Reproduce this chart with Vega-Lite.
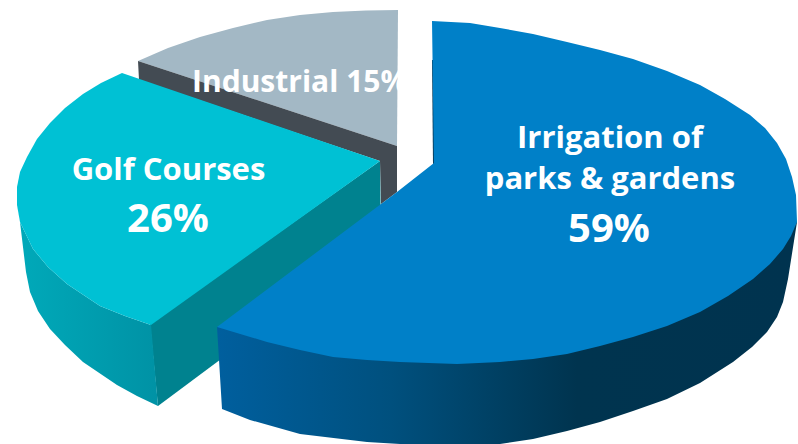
{"$schema":"https://vega.github.io/schema/vega-lite/v6.json","width":798,"height":444,"padding":0,"autosize":"none","background":"white","view":{"stroke":null},
"datasets":{"shapes":[
{"p":"grey","x":138,"y":61},{"p":"grey","x":168,"y":48},{"p":"grey","x":200,"y":37},{"p":"grey","x":233,"y":28},{"p":"grey","x":267,"y":20},{"p":"grey","x":300,"y":15},{"p":"grey","x":333,"y":12},{"p":"grey","x":366,"y":10.5},{"p":"grey","x":398,"y":10},{"p":"grey","x":397,"y":146},
{"p":"dark","x":138,"y":61},{"p":"dark","x":397,"y":146},{"p":"dark","x":397,"y":192},{"p":"dark","x":381,"y":204},{"p":"dark","x":380,"y":161},{"p":"dark","x":139,"y":80},
{"p":"inner","x":150,"y":324},{"p":"inner","x":380,"y":161},{"p":"inner","x":381,"y":240},{"p":"inner","x":158,"y":406},
{"p":"outer","x":20,"y":222},{"p":"outer","x":33,"y":249},{"p":"outer","x":48,"y":267},{"p":"outer","x":67,"y":284},{"p":"outer","x":100,"y":306},{"p":"outer","x":125,"y":316},{"p":"outer","x":151,"y":325},{"p":"outer","x":158,"y":406},{"p":"outer","x":137,"y":396},{"p":"outer","x":117,"y":385},{"p":"outer","x":83,"y":362},{"p":"outer","x":65,"y":345},{"p":"outer","x":50,"y":329},{"p":"outer","x":38,"y":311},{"p":"outer","x":30,"y":292},{"p":"outer","x":26,"y":272},
{"p":"cyan","x":122,"y":73},{"p":"cyan","x":101,"y":83},{"p":"cyan","x":83,"y":94},{"p":"cyan","x":65,"y":108},{"p":"cyan","x":50,"y":123},{"p":"cyan","x":37,"y":139},{"p":"cyan","x":27,"y":157},{"p":"cyan","x":20,"y":172},{"p":"cyan","x":17,"y":187},{"p":"cyan","x":17,"y":205},{"p":"cyan","x":20,"y":222},{"p":"cyan","x":33,"y":249},{"p":"cyan","x":48,"y":267},{"p":"cyan","x":67,"y":284},{"p":"cyan","x":100,"y":306},{"p":"cyan","x":125,"y":316},{"p":"cyan","x":151,"y":325},{"p":"cyan","x":380,"y":161},
{"p":"blueside","x":217,"y":327},{"p":"blueside","x":222,"y":409},{"p":"blueside","x":250,"y":420},{"p":"blueside","x":300,"y":434},{"p":"blueside","x":367,"y":442},{"p":"blueside","x":400,"y":444},{"p":"blueside","x":500,"y":444},{"p":"blueside","x":533,"y":439},{"p":"blueside","x":567,"y":431},{"p":"blueside","x":600,"y":422},{"p":"blueside","x":633,"y":411},{"p":"blueside","x":667,"y":399},{"p":"blueside","x":700,"y":383},{"p":"blueside","x":733,"y":362},{"p":"blueside","x":752,"y":347},{"p":"blueside","x":767,"y":332},{"p":"blueside","x":777,"y":317},{"p":"blueside","x":783,"y":302},{"p":"blueside","x":788,"y":279},{"p":"blueside","x":797,"y":222},{"p":"blueside","x":500,"y":300},
{"p":"sliver","x":432,"y":60},{"p":"sliver","x":433.5,"y":60},{"p":"sliver","x":434.5,"y":163},{"p":"sliver","x":433,"y":165},
{"p":"blue","x":432,"y":21},{"p":"blue","x":470,"y":23},{"p":"blue","x":500,"y":28},{"p":"blue","x":533,"y":34},{"p":"blue","x":567,"y":42},{"p":"blue","x":600,"y":50},{"p":"blue","x":633,"y":59},{"p":"blue","x":667,"y":71},{"p":"blue","x":700,"y":85},{"p":"blue","x":725,"y":99},{"p":"blue","x":750,"y":115},{"p":"blue","x":765,"y":128},{"p":"blue","x":777,"y":143},{"p":"blue","x":786,"y":159},{"p":"blue","x":792,"y":177},{"p":"blue","x":796,"y":195},{"p":"blue","x":797,"y":222},{"p":"blue","x":791,"y":236},{"p":"blue","x":783,"y":249},{"p":"blue","x":770,"y":264},{"p":"blue","x":753,"y":279},{"p":"blue","x":728,"y":296},{"p":"blue","x":700,"y":312},{"p":"blue","x":667,"y":326},{"p":"blue","x":633,"y":337},{"p":"blue","x":600,"y":346},{"p":"blue","x":567,"y":354},{"p":"blue","x":533,"y":359},{"p":"blue","x":500,"y":362},{"p":"blue","x":457,"y":364},{"p":"blue","x":400,"y":362},{"p":"blue","x":367,"y":360},{"p":"blue","x":333,"y":357},{"p":"blue","x":300,"y":350},{"p":"blue","x":267,"y":342},{"p":"blue","x":217,"y":327},{"p":"blue","x":357,"y":222},{"p":"blue","x":397,"y":192},{"p":"blue","x":434,"y":163}
],"labels":[
{"t":"Industrial 15%","x":192,"y":83,"s":30},
{"t":"Golf Courses","x":168.5,"y":171,"s":31},
{"t":"26%","x":168,"y":220,"s":40},
{"t":"Irrigation of","x":610,"y":138.5,"s":31},
{"t":"parks & gardens","x":610,"y":180,"s":31},
{"t":"59%","x":609,"y":230,"s":40}
]},
"encoding":{"x":{"field":"x","type":"quantitative","scale":{"domain":[0,798],"nice":false,"zero":false},"axis":null},"y":{"field":"y","type":"quantitative","scale":{"domain":[444,0],"nice":false,"zero":false},"axis":null}},
"layer":[
{"data":{"name":"shapes"},"transform":[{"filter":"datum.p=='grey'"},{"window":[{"op":"row_number","as":"i"}]}],"encoding":{"order":{"field":"i","type":"quantitative"}},"mark":{"type":"line","fill":"#a3b8c5","stroke":null}},
{"data":{"name":"shapes"},"transform":[{"filter":"datum.p=='dark'"},{"window":[{"op":"row_number","as":"i"}]}],"encoding":{"order":{"field":"i","type":"quantitative"}},"mark":{"type":"line","fill":"#434b53","stroke":null}},
{"data":{"name":"shapes"},"transform":[{"filter":"datum.p=='inner'"},{"window":[{"op":"row_number","as":"i"}]}],"encoding":{"order":{"field":"i","type":"quantitative"}},"mark":{"type":"line","fill":"#00828f","stroke":null}},
{"data":{"name":"shapes"},"transform":[{"filter":"datum.p=='outer'"},{"window":[{"op":"row_number","as":"i"}]}],"encoding":{"order":{"field":"i","type":"quantitative"}},"mark":{"type":"line","stroke":null,"fill":{"x1":0,"x2":1,"y1":0,"y2":0,"gradient":"linear","stops":[{"offset":0,"color":"#00a9b9"},{"offset":1,"color":"#0092a5"}]}}},
{"data":{"name":"shapes"},"transform":[{"filter":"datum.p=='cyan'"},{"window":[{"op":"row_number","as":"i"}]}],"encoding":{"order":{"field":"i","type":"quantitative"}},"mark":{"type":"line","fill":"#00c1d4","stroke":null}},
{"data":{"name":"shapes"},"transform":[{"filter":"datum.p=='blueside'"},{"window":[{"op":"row_number","as":"i"}]}],"encoding":{"order":{"field":"i","type":"quantitative"}},"mark":{"type":"line","stroke":null,"fill":{"x1":0,"x2":1,"y1":0,"y2":0,"gradient":"linear","stops":[{"offset":0,"color":"#005f9e"},{"offset":0.3,"color":"#00507e"},{"offset":0.62,"color":"#00344f"},{"offset":1,"color":"#00334f"}]}}},
{"data":{"name":"shapes"},"transform":[{"filter":"datum.p=='sliver'"},{"window":[{"op":"row_number","as":"i"}]}],"encoding":{"order":{"field":"i","type":"quantitative"}},"mark":{"type":"line","fill":"#0a3f5f","stroke":null}},
{"data":{"name":"shapes"},"transform":[{"filter":"datum.p=='blue'"},{"window":[{"op":"row_number","as":"i"}]}],"encoding":{"order":{"field":"i","type":"quantitative"}},"mark":{"type":"line","fill":"#0080c8","stroke":null}},
{"data":{"name":"labels"},"transform":[{"filter":"datum.x==192"}],"mark":{"type":"text","align":"left","font":"Open Sans","fontWeight":"bold","color":"white"},"encoding":{"text":{"field":"t"},"size":{"field":"s","type":"quantitative","scale":null}}},
{"data":{"name":"labels"},"transform":[{"filter":"datum.x!=192"}],"mark":{"type":"text","align":"center","font":"Open Sans","fontWeight":"bold","color":"white"},"encoding":{"text":{"field":"t"},"size":{"field":"s","type":"quantitative","scale":null}}}
]}
